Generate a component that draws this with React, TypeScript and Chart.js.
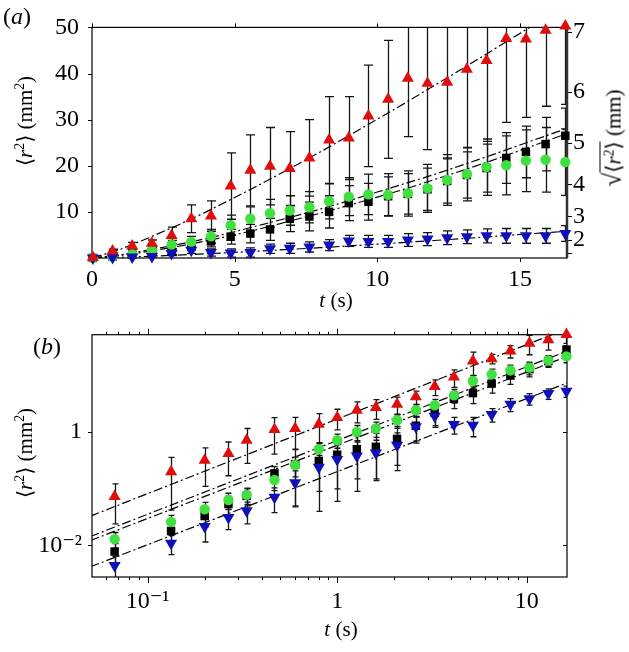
import React, { useEffect, useRef } from 'react';
import { Chart, registerables } from 'chart.js';
Chart.register(...registerables);

const FONT = '"Liberation Serif", "DejaVu Serif", serif';

// ---------- Panel (a): linear axes ----------
const tA = [0.03, 0.72, 1.41, 2.1, 2.79, 3.48, 4.17, 4.86, 5.55, 6.24, 6.93, 7.62, 8.31, 9.0, 9.69, 10.38, 11.07, 11.76, 12.45, 13.14, 13.83, 14.52, 15.21, 15.9, 16.59];
const redA = [0.1, 1.5, 2.6, 3.2, 4.9, 8.5, 9.1, 15.6, 19.0, 19.9, 19.4, 21.7, 25.6, 26.0, 30.8, 34.4, 39.0, 37.9, 38.1, 40.9, 42.8, 47.6, 47.5, 49.4, 50.3];
const redErrA = [0.1, 0.4, 0.8, 0.7, 1.8, 3.0, 3.3, 7.2, 7.7, 8.4, 8.0, 8.3, 9.4, 9.0, 11.0, 12.8, 12.7, 14.4, 16.4, 17.0, 17.5, 18.2, 17.0, 16.5, 17.0];
const greenA = [0.05, 0.3, 0.8, 1.7, 2.9, 3.5, 4.7, 7.1, 8.5, 9.7, 10.3, 11.0, 12.3, 13.3, 13.8, 13.7, 14.0, 15.1, 16.9, 18.2, 19.7, 20.1, 21.1, 21.3, 20.8];
const greenErrA = [0.05, 0.2, 0.4, 0.6, 0.9, 1.2, 1.5, 2.2, 2.6, 3.0, 3.2, 3.4, 3.8, 4.1, 4.4, 4.6, 4.9, 5.2, 5.5, 5.8, 6.1, 6.4, 6.7, 7.0, 7.2];
const blackA = [0.02, 0.3, 0.7, 1.1, 1.4, 2.6, 3.6, 4.6, 5.3, 6.2, 8.5, 9.0, 10.0, 11.9, 12.2, 13.4, 13.9, 14.9, 16.7, 18.0, 19.5, 21.7, 23.0, 24.7, 26.5];
const blackErrA = [0.02, 0.2, 0.3, 0.4, 0.6, 0.9, 1.2, 1.6, 2.0, 2.4, 2.8, 3.1, 3.5, 3.8, 4.0, 4.2, 4.4, 4.6, 4.8, 5.0, 5.2, 5.5, 5.6, 5.8, 6.0];
const blueA = [0.01, 0.1, 0.2, 0.3, 1.0, 1.7, 1.2, 1.1, 1.2, 2.0, 2.1, 2.4, 2.8, 3.7, 3.6, 3.6, 3.9, 4.1, 4.4, 4.6, 4.8, 4.8, 4.8, 4.8, 5.3];
const blueErrA = [0.01, 0.1, 0.2, 0.3, 0.5, 0.7, 0.8, 0.9, 1.0, 1.0, 1.1, 1.1, 1.2, 1.2, 1.3, 1.3, 1.4, 1.4, 1.5, 1.5, 1.5, 1.6, 1.6, 1.6, 1.7];

const fitTA = [0.03, 1, 2, 3, 4, 5, 6, 7, 8, 9, 10, 11, 12, 13, 14, 15, 16.65];
const fitRedA = [0.03, 1.9, 4.4, 7.1, 10.0, 13.1, 16.3, 19.6, 23.0, 26.5, 30.1, 33.7, 37.4, 41.1, 44.9, 48.7, 55.1];
const fitUpperA = [0.01, 0.7, 1.75, 2.9, 4.2, 5.7, 7.3, 8.9, 10.6, 12.4, 14.3, 16.2, 18.1, 20.2, 22.3, 24.5, 28.1];
const fitLowerA = [0.01, 0.55, 1.45, 2.5, 3.7, 5.0, 6.5, 8.1, 9.7, 11.4, 13.2, 15.0, 17.0, 19.0, 21.1, 23.3, 27.0];
const fitBlueA = [0.001, 0.15, 0.37, 0.63, 0.91, 1.22, 1.54, 1.89, 2.24, 2.61, 3.0, 3.4, 3.8, 4.2, 4.65, 5.1, 5.8];

const xTicksA = [0, 5, 10, 15];
const yTicksA = [10, 20, 30, 40, 50];
const sqrtTicksA = [1, 4, 9, 16, 25, 36, 49]; // r^2 values where sqrt = 1..7

// ---------- Panel (b): log-log axes ----------
const tB = [0.067, 0.133, 0.2, 0.267, 0.333, 0.467, 0.6, 0.8, 1.0, 1.27, 1.6, 2.07, 2.6, 3.27, 4.13, 5.2, 6.53, 8.2, 10.33, 13.0, 16.2];
const redB = [0.073, 0.2, 0.32, 0.42, 0.72, 1.11, 1.16, 1.38, 1.82, 2.44, 2.72, 3.1, 4.2, 6.4, 9.4, 18, 19.8, 27, 37.3, 43, 53];
const redErrB = [0.049, 0.158, 0.21, 0.25, 0.44, 0.7, 0.66, 0.75, 0.72, 0.98, 1.04, 1.07, 1.1, 2.0, 3.2, 7.9, 3.8, 6.6, 14, 15, 16];
const greenB = [0.0129, 0.026, 0.0435, 0.0635, 0.078, 0.143, 0.263, 0.5, 0.72, 1.01, 1.16, 1.62, 2.44, 2.99, 4.47, 8.0, 10.5, 12.3, 13.8, 18.5, 21.8];
const greenErrB = [0.004, 0.008, 0.014, 0.02, 0.025, 0.05, 0.1, 0.15, 0.2, 0.3, 0.35, 0.45, 0.6, 0.8, 1.2, 2, 2.5, 3, 3.5, 4, 5];
const blackB = [0.0078, 0.018, 0.033, 0.054, 0.075, 0.187, 0.27, 0.31, 0.4, 0.5, 0.55, 0.76, 1.3, 2.2, 3.9, 4.9, 7.2, 10, 13, 18, 28.7];
const blackErrB = [0.003, 0.006, 0.012, 0.02, 0.025, 0.06, 0.22, 0.27, 0.3, 0.35, 0.4, 0.5, 0.6, 0.9, 1.3, 1.7, 2.3, 3, 3.5, 4, 5];
const blueB = [0.0044, 0.0109, 0.0215, 0.031, 0.041, 0.071, 0.128, 0.24, 0.33, 0.38, 0.43, 0.59, 1.24, 1.91, 1.37, 1.33, 2.05, 3.1, 3.9, 4.8, 5.3];
const blueErrB = [0.002, 0.004, 0.01, 0.012, 0.017, 0.033, 0.08, 0.15, 0.27, 0.29, 0.29, 0.38, 0.6, 0.7, 0.45, 0.5, 0.55, 0.8, 0.9, 1.0, 1.2];

const fitTB = [0.05, 16.5];
const fitRedB = [0.033, 68];
const fitUpperB = [0.0144, 27.4];
const fitLowerB = [0.0122, 22];
const fitBlueB = [0.0042, 7.5];

const xMajorB = [0.1, 1, 10];
const xMinorB = [0.06, 0.07, 0.08, 0.09, 0.2, 0.3, 0.4, 0.5, 0.6, 0.7, 0.8, 0.9, 2, 3, 4, 5, 6, 7, 8, 9];
const yMajorB = [0.01, 1];
const xLabelsB: Record<string, string> = { '0.1': '10⁻¹', '1': '1', '10': '10' };
const yLabelsB: Record<string, string> = { '0.01': '10⁻²', '1': '1' };

// ---------- styling ----------
const RED = '#e00d0d';
const GREEN = '#3fe03f';
const BLUE = '#1010bb';
const BLACK = '#000000';
const DASH = [9, 3, 2, 3];

type TickSpec = { scale: string; side: 'top' | 'bottom' | 'left' | 'right'; values: number[]; len: number };

function framePlugin(ticks: TickSpec[], rightLineWidth: number) {
  return {
    id: 'frame',
    beforeDatasetsDraw(chart: any) {
      const { ctx, chartArea: a } = chart;
      ctx.save();
      ctx.strokeStyle = '#000';
      ctx.lineWidth = 1;
      for (const t of ticks) {
        const sc = chart.scales[t.scale];
        for (const v of t.values) {
          const p = Math.round(sc.getPixelForValue(v)) + 0.5;
          ctx.beginPath();
          if (t.side === 'left') { ctx.moveTo(a.left, p); ctx.lineTo(a.left - t.len, p); }
          else if (t.side === 'right') { ctx.moveTo(a.right, p); ctx.lineTo(a.right + t.len, p); }
          else if (t.side === 'top') { ctx.moveTo(p, a.top); ctx.lineTo(p, a.top - t.len); }
          else { ctx.moveTo(p, a.bottom); ctx.lineTo(p, a.bottom + t.len); }
          ctx.stroke();
        }
      }
      ctx.lineWidth = 1.2;
      ctx.strokeRect(a.left, a.top, a.right - a.left, a.bottom - a.top);
      if (rightLineWidth > 1.2) {
        ctx.lineWidth = rightLineWidth;
        ctx.strokeStyle = '#333';
        ctx.beginPath();
        ctx.moveTo(a.right, a.top);
        ctx.lineTo(a.right, a.bottom);
        ctx.stroke();
      }
      ctx.restore();
    },
  };
}

function errorPlugin(cap: number) {
  return {
    id: 'errbars',
    beforeDatasetsDraw(chart: any) {
      const { ctx, chartArea: a } = chart;
      const xs = chart.scales.x;
      const ys = chart.scales.y;
      const isLog = ys.type === 'logarithmic';
      ctx.save();
      ctx.beginPath();
      ctx.rect(a.left, a.top, a.right - a.left, a.bottom - a.top);
      ctx.clip();
      ctx.strokeStyle = '#151515';
      ctx.lineWidth = 1.3;
      const list = chart.data.datasets;
      for (let d = list.length - 1; d >= 0; d--) {
        const ds = list[d];
        if (!ds.errors) continue;
        ds.data.forEach((pt: any, i: number) => {
          const e = ds.errors[i];
          const x = Math.round(xs.getPixelForValue(pt.x)) + 0.5;
          const yHi = ys.getPixelForValue(pt.y + e);
          const lo = pt.y - e;
          const yLo = isLog && lo <= ys.min ? a.bottom + 20 : ys.getPixelForValue(lo);
          ctx.beginPath();
          ctx.moveTo(x, yHi);
          ctx.lineTo(x, yLo);
          ctx.moveTo(x - cap, yHi);
          ctx.lineTo(x + cap, yHi);
          ctx.moveTo(x - cap, yLo);
          ctx.lineTo(x + cap, yLo);
          ctx.stroke();
        });
      }
      ctx.restore();
    },
  };
}

function markers(xs: number[], ys: number[], errs: number[], style: any) {
  return {
    data: xs.map((x, i) => ({ x, y: ys[i] })),
    errors: errs,
    showLine: false,
    clip: false,
    borderWidth: 0,
    ...style,
  };
}

function fitLine(xs: number[], ys: number[]) {
  return {
    data: xs.map((x, i) => ({ x, y: ys[i] })),
    showLine: true,
    pointRadius: 0,
    borderColor: '#000',
    borderWidth: 1.2,
    borderDash: DASH,
    tension: 0,
    fill: false,
  };
}

const redStyle = { pointStyle: 'triangle', pointRadius: 7, backgroundColor: RED, borderColor: RED };
const blueStyle = { pointStyle: 'triangle', rotation: 180, pointRadius: 7, backgroundColor: BLUE, borderColor: BLUE };
const greenStyle = { pointStyle: 'circle', pointRadius: 5.2, backgroundColor: GREEN, borderColor: GREEN };
const blackStyle = { pointStyle: 'rect', pointRadius: 6, backgroundColor: BLACK, borderColor: BLACK };

const tickFont = { family: FONT, size: 24 };

function configA(): any {
  return {
    type: 'scatter',
    data: {
      datasets: [
        markers(tA, redA, redErrA, redStyle),
        markers(tA, blueA, blueErrA, blueStyle),
        markers(tA, greenA, greenErrA, greenStyle),
        markers(tA, blackA, blackErrA, blackStyle),
        fitLine(fitTA, fitRedA),
        fitLine(fitTA, fitUpperA),
        fitLine(fitTA, fitLowerA),
        fitLine(fitTA, fitBlueA),
      ],
    },
    options: {
      animation: false,
      responsive: false,
      devicePixelRatio: 1,
      events: [],
      layout: { padding: { top: 18, left: 0, right: 0, bottom: 0 } },
      plugins: { legend: { display: false }, tooltip: { enabled: false } },
      scales: {
        x: {
          type: 'linear', min: 0, max: 16.65,
          afterBuildTicks: (s: any) => { s.ticks = xTicksA.map((v) => ({ value: v })); },
          afterFit: (s: any) => { s.height = 42; },
          grid: { display: false, drawTicks: false },
          border: { display: false },
          ticks: { font: tickFont, color: '#000', padding: 7, maxRotation: 0, autoSkip: false, callback: (v: number) => String(v) },
        },
        y: {
          type: 'linear', min: 0, max: 50,
          afterBuildTicks: (s: any) => { s.ticks = yTicksA.map((v) => ({ value: v })); },
          afterFit: (s: any) => { s.width = 92; },
          grid: { display: false, drawTicks: false },
          border: { display: false },
          ticks: { font: tickFont, color: '#000', padding: 13, autoSkip: false, callback: (v: number) => String(v) },
        },
        y2: {
          type: 'linear', position: 'right', min: 0, max: 50,
          afterBuildTicks: (s: any) => { s.ticks = sqrtTicksA.map((v) => ({ value: v })); },
          afterFit: (s: any) => { s.width = 62; },
          grid: { display: false, drawTicks: false },
          border: { display: false },
          ticks: {
            font: tickFont, color: '#000', padding: 6, autoSkip: false,
            callback: (v: number) => (v === 1 ? '' : String(Math.round(Math.sqrt(v)))),
          },
        },
      },
    },
    plugins: [
      errorPlugin(4.5),
      framePlugin(
        [
          { scale: 'y', side: 'left', values: yTicksA, len: 4 },
          { scale: 'x', side: 'top', values: xTicksA, len: 4 },
          { scale: 'x', side: 'bottom', values: xTicksA, len: 4 },
          { scale: 'y2', side: 'right', values: sqrtTicksA, len: 5 },
        ],
        2.5,
      ),
    ],
  };
}

function configB(): any {
  return {
    type: 'scatter',
    data: {
      datasets: [
        markers(tB, redB, redErrB, redStyle),
        markers(tB, blueB, blueErrB, blueStyle),
        markers(tB, greenB, greenErrB, greenStyle),
        markers(tB, blackB, blackErrB, blackStyle),
        fitLine(fitTB, fitRedB),
        fitLine(fitTB, fitUpperB),
        fitLine(fitTB, fitLowerB),
        fitLine(fitTB, fitBlueB),
      ],
    },
    options: {
      animation: false,
      responsive: false,
      devicePixelRatio: 1,
      events: [],
      layout: { padding: { top: 24.7, left: 0, right: 62, bottom: 0 } },
      plugins: { legend: { display: false }, tooltip: { enabled: false } },
      scales: {
        x: {
          type: 'logarithmic', min: 0.0509, max: 16.31,
          afterBuildTicks: (s: any) => { s.ticks = xMajorB.map((v) => ({ value: v })); },
          afterFit: (s: any) => { s.height = 75; },
          grid: { display: false, drawTicks: false },
          border: { display: false },
          ticks: { font: tickFont, color: '#000', padding: 10, maxRotation: 0, autoSkip: false, callback: (v: number) => xLabelsB[String(v)] ?? '' },
        },
        y: {
          type: 'logarithmic', min: 0.00277, max: 52.6,
          afterBuildTicks: (s: any) => { s.ticks = yMajorB.map((v) => ({ value: v })); },
          afterFit: (s: any) => { s.width = 92; },
          grid: { display: false, drawTicks: false },
          border: { display: false },
          ticks: { font: tickFont, color: '#000', padding: 10, autoSkip: false, callback: (v: number) => yLabelsB[String(v)] ?? '' },
        },
      },
    },
    plugins: [
      errorPlugin(3),
      framePlugin(
        [
          { scale: 'x', side: 'top', values: xMajorB, len: 6 },
          { scale: 'x', side: 'top', values: xMinorB, len: 3 },
          { scale: 'x', side: 'bottom', values: xMajorB, len: 6 },
          { scale: 'x', side: 'bottom', values: xMinorB, len: 3 },
          { scale: 'y', side: 'left', values: yMajorB, len: 4 },
          { scale: 'y', side: 'right', values: yMajorB, len: -4 },
        ],
        1.2,
      ),
    ],
  };
}

const textBase: React.CSSProperties = {
  position: 'absolute',
  fontFamily: FONT,
  fontSize: 21,
  lineHeight: 1,
  whiteSpace: 'nowrap',
  color: '#000',
};

function centered(cx: number, cy: number, rotate: boolean): React.CSSProperties {
  return {
    ...textBase,
    left: cx,
    top: cy,
    transform: rotate ? 'translate(-50%, -50%) rotate(-90deg)' : 'translate(-50%, -50%)',
  };
}

const supStyle: React.CSSProperties = { fontSize: '0.65em', verticalAlign: '0.55em', lineHeight: 0 };

function R2() {
  return (
    <span>
      ⟨<i>r</i>
      <span style={supStyle}>2</span>⟩
    </span>
  );
}

export default function App() {
  const refA = useRef<HTMLCanvasElement>(null);
  const refB = useRef<HTMLCanvasElement>(null);

  useEffect(() => {
    document.body.style.margin = '0';
    const ca = new Chart(refA.current as HTMLCanvasElement, configA());
    const cb = new Chart(refB.current as HTMLCanvasElement, configB());
    return () => {
      ca.destroy();
      cb.destroy();
    };
  }, []);

  return (
    <div style={{ position: 'fixed', left: 0, top: 0, width: 629, height: 652, background: '#fff', overflow: 'hidden' }}>
      <canvas ref={refA} width={629} height={300} style={{ position: 'absolute', left: 0, top: 0, width: 629, height: 300 }} />
      <canvas ref={refB} width={629} height={342} style={{ position: 'absolute', left: 0, top: 310, width: 629, height: 342 }} />

      <div style={{ ...textBase, fontSize: 24, left: 3, top: 4 }}>
        (<i>a</i>)
      </div>
      <div style={{ ...textBase, fontSize: 24, left: 33, top: 334 }}>
        (<i>b</i>)
      </div>

      <div style={centered(25, 121, true)}>
        <R2 /> (mm<span style={supStyle}>2</span>)
      </div>
      <div style={centered(612, 138, true)}>
        <span style={{ fontSize: 25 }}>√</span>
        <span style={{ borderTop: '1px solid #000', paddingTop: 1 }}><R2 /></span> (mm)
      </div>
      <div style={centered(336, 300, false)}>
        <i>t</i> (s)
      </div>

      <div style={centered(25, 453, true)}>
        <R2 /> (mm<span style={supStyle}>2</span>)
      </div>
      <div style={centered(341, 629, false)}>
        <i>t</i> (s)
      </div>
    </div>
  );
}
